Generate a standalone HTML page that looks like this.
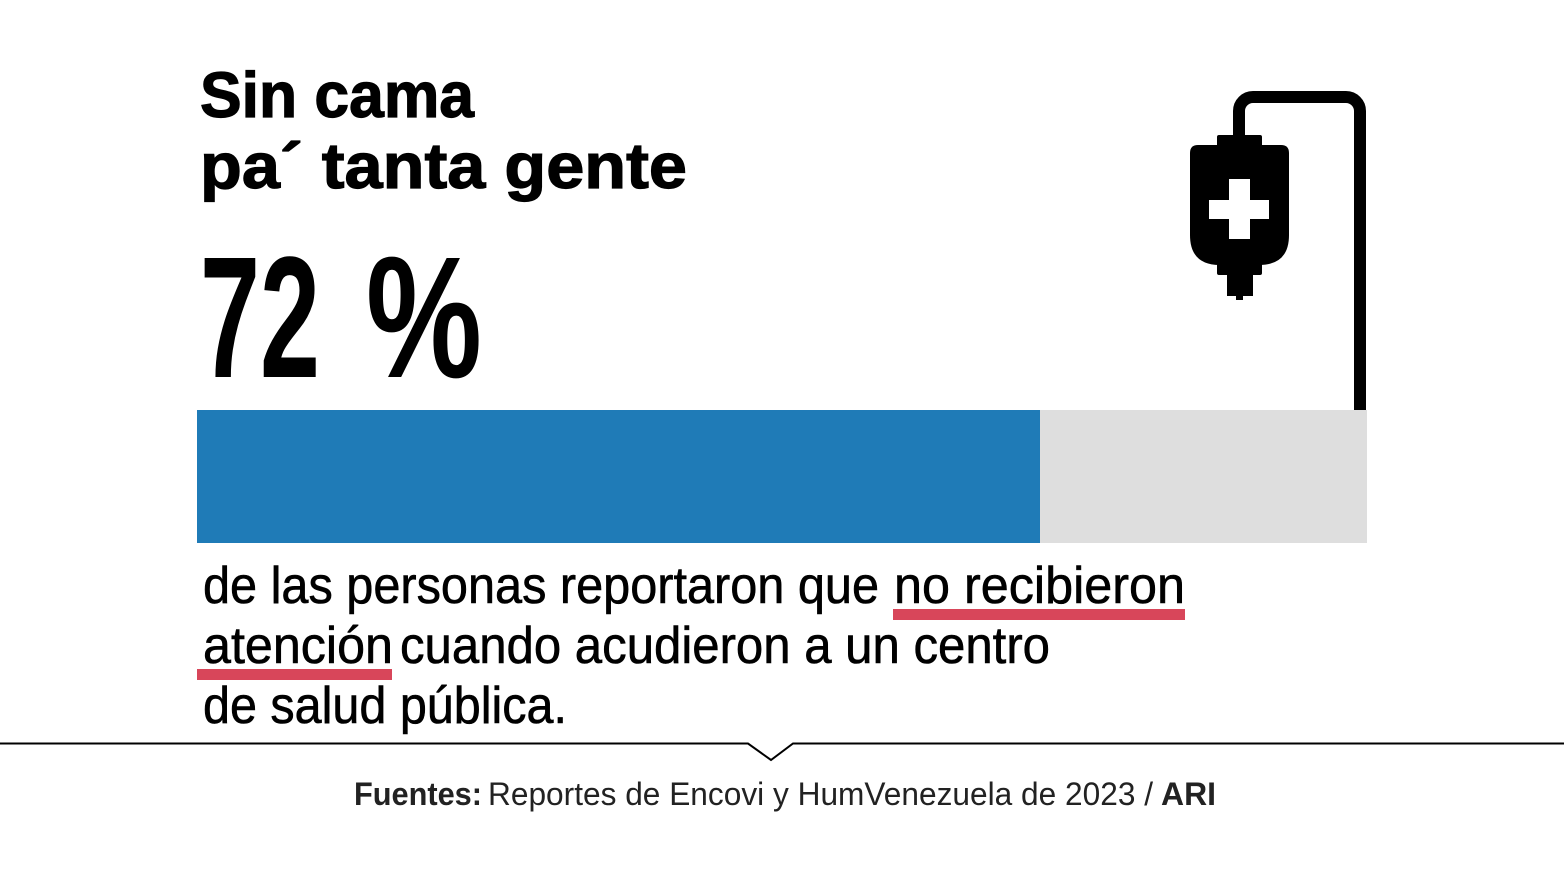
<!DOCTYPE html>
<html>
<head>
<meta charset="utf-8">
<style>
  html,body{margin:0;padding:0;background:#fff;}
  body{width:1564px;height:880px;overflow:hidden;}
  svg{display:block;}
  text{font-family:"Liberation Sans", "DejaVu Sans", sans-serif;}
</style>
</head>
<body>
<svg width="1564" height="880" viewBox="0 0 1564 880" xmlns="http://www.w3.org/2000/svg">
  <rect x="0" y="0" width="1564" height="880" fill="#ffffff"/>

  <!-- Title -->
  <text x="200" y="117" font-size="64" font-weight="700" fill="#000" stroke="#000" stroke-width="1.2" textLength="274" lengthAdjust="spacingAndGlyphs">Sin cama</text>
  <text x="200" y="188" font-size="64" font-weight="700" fill="#000" stroke="#000" stroke-width="1.2" textLength="487" lengthAdjust="spacingAndGlyphs">pa´ tanta gente</text>

  <!-- Big number -->
  <text x="200" y="377" font-size="173" font-weight="700" fill="#000" textLength="120" lengthAdjust="spacingAndGlyphs">72</text>
  <text x="366" y="377" font-size="173" font-weight="700" fill="#000" textLength="116" lengthAdjust="spacingAndGlyphs">%</text>

  <!-- IV icon -->
  <path d="M1239 140 V111 A14 14 0 0 1 1253 97 H1346 A14 14 0 0 1 1360 111 V410" fill="none" stroke="#000" stroke-width="12"/>
  <rect x="1217" y="135" width="45" height="13" rx="2" fill="#000"/>
  <path d="M1198 145 H1281 Q1289 145 1289 153 V235 Q1289 265 1259 265 H1220 Q1190 265 1190 235 V153 Q1190 145 1198 145 Z" fill="#000"/>
  <rect x="1217" y="256" width="45" height="19" rx="2" fill="#000"/>
  <rect x="1227" y="273" width="26" height="23" fill="#000"/>
  <rect x="1236" y="294" width="7" height="6" fill="#000"/>
  <rect x="1209" y="200" width="60" height="19" fill="#fff"/>
  <rect x="1229" y="179" width="21" height="60" fill="#fff"/>

  <!-- Bar -->
  <rect x="197" y="410" width="843" height="133" fill="#1f7bb7"/>
  <rect x="1040" y="410" width="327" height="133" fill="#dedede"/>

  <!-- Body text -->
  <rect x="893" y="609" width="292" height="11" fill="#d8465a"/>
  <rect x="197" y="669" width="195" height="11" fill="#d8465a"/>

  <g fill="#000" stroke="#000" stroke-width="0.6">
  <text x="203" y="603" font-size="52" textLength="676" lengthAdjust="spacingAndGlyphs">de las personas reportaron que</text>
  <text x="894" y="603" font-size="52" textLength="291" lengthAdjust="spacingAndGlyphs">no recibieron</text>
  <text x="203" y="663" font-size="52" textLength="190" lengthAdjust="spacingAndGlyphs">atención</text>
  <text x="400" y="663" font-size="52" textLength="650" lengthAdjust="spacingAndGlyphs">cuando acudieron a un centro</text>
  <text x="203" y="723" font-size="52" textLength="364" lengthAdjust="spacingAndGlyphs">de salud pública.</text>
  </g>

  <!-- Divider with chevron -->
  <polyline points="0,743.5 748,743.5 771,760 793,743.5 1564,743.5" fill="none" stroke="#000" stroke-width="2"/>

  <!-- Footer -->
  <text x="354" y="805" font-size="32" font-weight="700" fill="#222" textLength="128" lengthAdjust="spacingAndGlyphs">Fuentes:</text>
  <text x="488" y="805" font-size="32" fill="#222" textLength="665" lengthAdjust="spacingAndGlyphs">Reportes de Encovi y HumVenezuela de 2023 /</text>
  <text x="1161" y="805" font-size="32" font-weight="700" fill="#222" textLength="55" lengthAdjust="spacingAndGlyphs">ARI</text>
</svg>
</body>
</html>
